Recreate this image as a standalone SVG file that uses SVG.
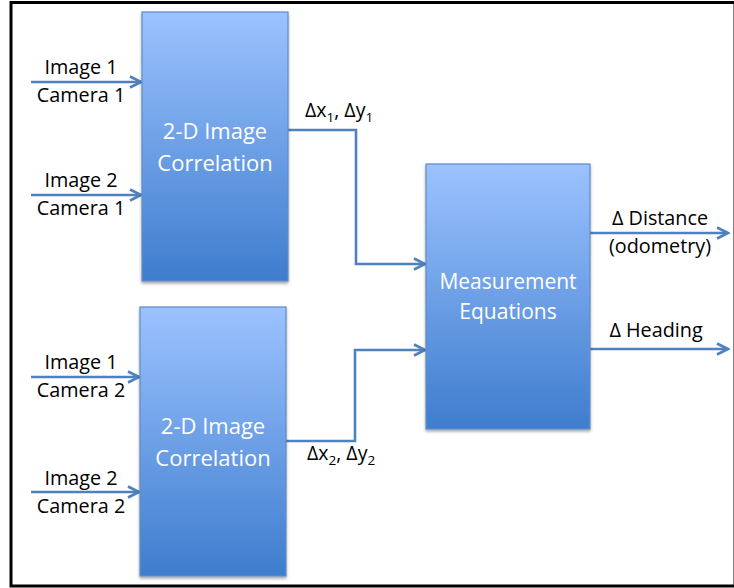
<svg xmlns="http://www.w3.org/2000/svg" width="734" height="588" viewBox="0 0 734 588">
<style>
.box{fill:url(#g);stroke:#5F8CC8;stroke-width:1.2;filter:url(#sh)}
.bt{font-family:"Open Sans","Noto Sans",sans-serif;font-size:22px;fill:#ffffff;text-anchor:middle}
.bm{font-size:21px}
.lb{font-family:"Open Sans","Noto Sans",sans-serif;font-size:19.8px;fill:#000000;text-anchor:middle}
.dl{font-family:"Open Sans","Noto Sans",sans-serif;font-size:19.5px;fill:#000000}
.sub{font-size:13.5px}
.c{fill:none;stroke:#4F81BD;stroke-width:2.6;marker-end:url(#ah)}
</style>
<defs>
<linearGradient id="g" x1="0" y1="0" x2="0" y2="1">
<stop offset="0" stop-color="#9CC2FF"/>
<stop offset="1" stop-color="#3E7DCD"/>
</linearGradient>
<filter id="sh" x="-10%" y="-10%" width="120%" height="120%">
<feDropShadow dx="0" dy="2" stdDeviation="1.8" flood-color="#000" flood-opacity="0.35"/>
</filter>
<marker id="ah" markerUnits="userSpaceOnUse" markerWidth="16" markerHeight="16" viewBox="0 0 16 16" refX="14" refY="8" orient="auto">
<path d="M3,2.5 L14,8 L3,13.5" fill="none" stroke="#4F81BD" stroke-width="2.6" stroke-linejoin="miter"/>
</marker>
</defs>
<rect x="11" y="2.5" width="724" height="583.5" fill="#ffffff" stroke="#000000" stroke-width="3"/>

<g id="connectors">
<path class="c" d="M31,82 H141"/>
<path class="c" d="M31,195 H141"/>
<path class="c" d="M31,377 H139"/>
<path class="c" d="M31,492 H139"/>
<path class="c" d="M288,130 H356 V264 H425"/>
<path class="c" d="M286,441 H355 V350 H425"/>
<path class="c" d="M590,233 H728"/>
<path class="c" d="M590,349 H728"/>
</g>

<g id="corr1">
<rect class="box" x="142" y="12" width="146" height="269"/>
<text class="bt" x="215" y="139">2-D Image</text>
<text class="bt" x="215" y="171">Correlation</text>
</g>
<g id="corr2">
<rect class="box" x="140" y="307" width="146" height="269"/>
<text class="bt" x="213" y="434">2-D Image</text>
<text class="bt" x="213" y="466">Correlation</text>
</g>
<g id="meas">
<rect class="box" x="426" y="164" width="164" height="265"/>
<text class="bt bm" x="508" y="289">Measurement</text>
<text class="bt bm" x="508" y="319">Equations</text>
</g>

<g id="inputs">
<text class="lb" x="81" y="74">Image 1</text>
<text class="lb" x="81" y="102">Camera 1</text>
<text class="lb" x="81" y="187">Image 2</text>
<text class="lb" x="81" y="215">Camera 1</text>
<text class="lb" x="81" y="369">Image 1</text>
<text class="lb" x="81" y="397">Camera 2</text>
<text class="lb" x="81" y="485">Image 2</text>
<text class="lb" x="81" y="513">Camera 2</text>
</g>

<g id="deltas">
<text class="dl" x="305" y="117">Δx<tspan class="sub" dy="5">1</tspan><tspan dy="-5">, Δy</tspan><tspan class="sub" dy="5">1</tspan></text>
<text class="dl" x="307" y="460">Δx<tspan class="sub" dy="5">2</tspan><tspan dy="-5">, Δy</tspan><tspan class="sub" dy="5">2</tspan></text>
</g>

<g id="outputs">
<text class="lb" x="660" y="225">Δ Distance</text>
<text class="lb" x="660" y="253">(odometry)</text>
<text class="lb" x="656" y="337">Δ Heading</text>
</g>
</svg>
